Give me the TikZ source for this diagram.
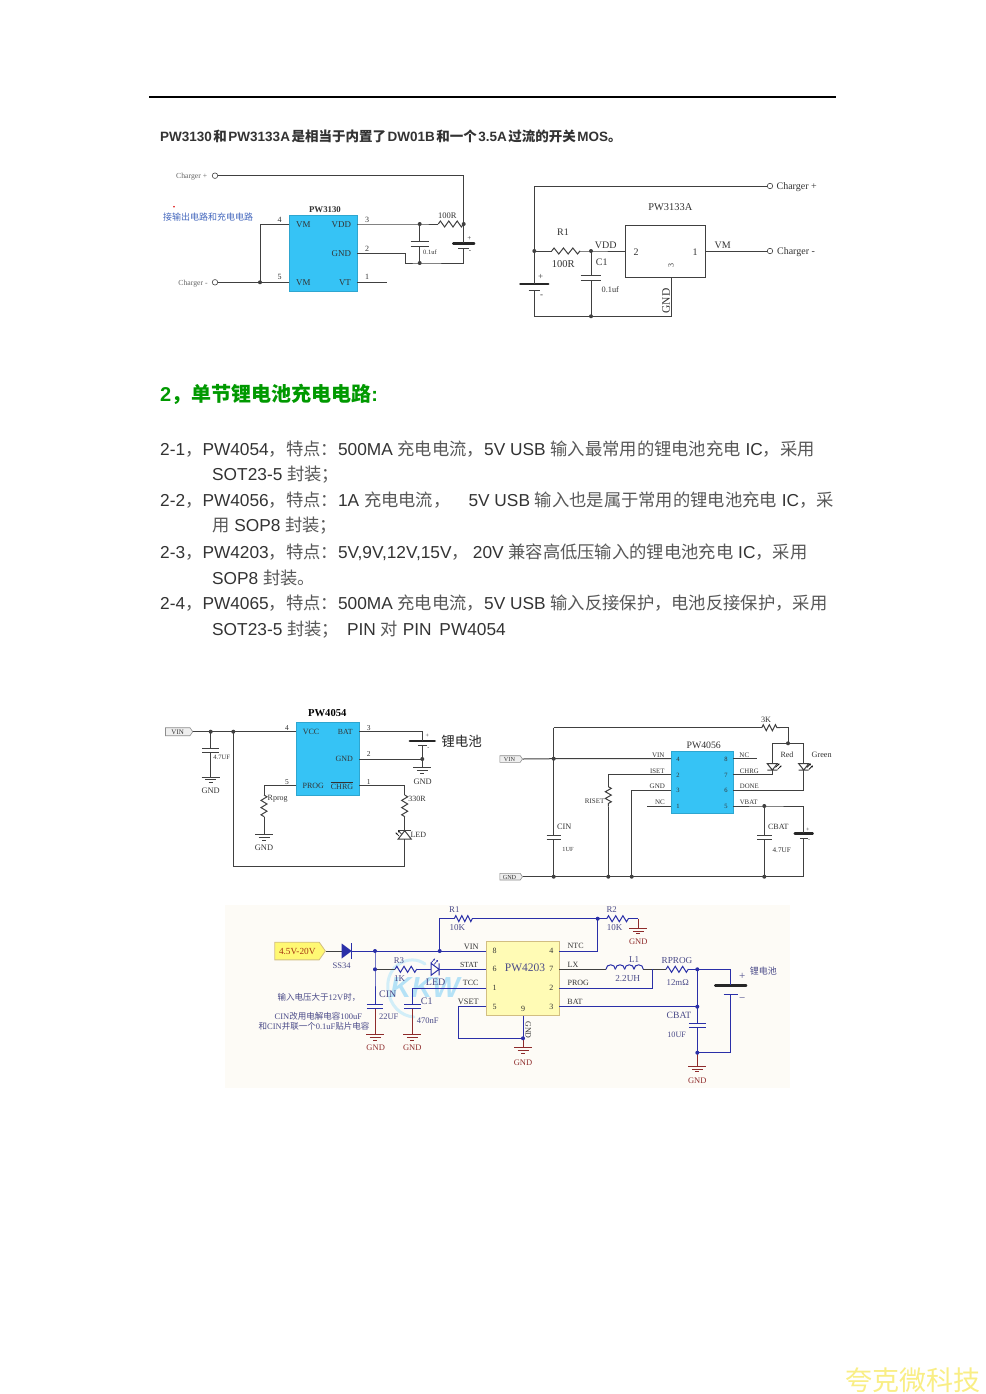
\documentclass[tikz,border=0pt]{standalone}
\usepackage{fontspec}
\setmainfont{Liberation Serif}
\newfontfamily\ar{Liberation Sans}
\newfontfamily\cjk{Noto Sans CJK SC}
\usetikzlibrary{decorations.pathmorphing,shapes.symbols,arrows.meta}
\definecolor{chipblue}{HTML}{36C3F5}
\definecolor{chipyel}{HTML}{FFFBB5}
\definecolor{chipedge}{HTML}{D2BE82}
\definecolor{ewire}{HTML}{2A2FA8}
\definecolor{gred}{HTML}{8E2B2B}
\definecolor{elab}{HTML}{4A4A88}
\definecolor{inkgrey}{HTML}{333333}
\definecolor{cjkgrey}{HTML}{585858}
\definecolor{wirea}{HTML}{404040}
\definecolor{cream}{HTML}{FDFBF6}
\definecolor{tagfill}{HTML}{EFEFEF}
\definecolor{kkw}{HTML}{B5E2F6}
\definecolor{kkwarc}{HTML}{D2EEF8}
\definecolor{wmyel}{HTML}{F9EE85}
\newcounter{tn}
\newcommand\C[1]{{\cjk #1}}
\newcommand\Cp[1]{{\color{cjkgrey}\cjk #1}}
\newcommand\T[3][]{\stepcounter{tn}\node[lab,#1] (t\arabic{tn}) at (#2) {#3};}
\newcommand\Pt[2]{\coordinate (#1) at (#2);}
\newcommand\Res[3]{\draw[wire,decorate,decoration={zigzag,amplitude=3pt,segment length=#3pt}] (#1) -- (#2);}
\newcommand\capv[5]{\coordinate (#1-t) at (#2,#3);\coordinate (#1-b) at (#2,#4);
  \draw[wire] (#2-#5,#3) -- (#2+#5,#3);\draw[wire] (#2-#5,#4) -- (#2+#5,#4);}
\newcommand\batv[6]{\coordinate (#1-t) at (#2,#3);\coordinate (#1-b) at (#2,#4);
  \draw[wire,line width=2.4pt,line cap=round,draw=black!85] (#2-#5,#3) -- (#2+#5,#3);\draw[wire] (#2-#6,#4) -- (#2+#6,#4);}
\newcommand\gnd[4][]{\coordinate (#2) at (#3,#4);
  \draw[wire,#1] (#3-9,#4) -- (#3+9,#4);\draw[wire,#1] (#3-5.5,#4+2.7) -- (#3+5.5,#4+2.7);\draw[wire,#1] (#3-2,#4+5.4) -- (#3+2,#4+5.4);}
\newcommand\jd[1]{\fill[wirecol] (#1) circle (2);}
\tikzset{
  lab/.style={inner sep=0pt,text=inkgrey},
  f/.style={font=\fontsize{#1}{#1}\selectfont},
  para/.style={anchor=base west,font=\ar\fontsize{17.3}{20}\selectfont,text=inkgrey,execute at begin node=\let\C\Cp},
  wire/.style={line width=1pt,draw=wirecol},
  term/.style={circle,draw=wirea,fill=white,line width=.6pt,minimum size=5.5pt,inner sep=0pt},
  chipb/.style={draw=chipblue!85!black,line width=.5pt,fill=chipblue,inner sep=0pt},
  chipw/.style={draw=wirea,line width=1pt,fill=white,inner sep=0pt},
  chipy/.style={draw=chipedge,line width=1pt,fill=chipyel,inner sep=0pt},
  tag/.style={shape=signal,signal to=east,signal pointer angle=110,draw=black!45,fill=tagfill,line width=.6pt,inner sep=0pt},
}
\colorlet{wirecol}{wirea}
\begin{document}
\begin{tikzpicture}[x=1pt,y=-1pt]
\useasboundingbox (0,0) rectangle (985,1394);
\fill[white] (0,0) rectangle (985,1394);
% header rule
\Pt{rl}{149,97}\Pt{rr}{836,97}
\draw[line width=1.4pt,black] (rl) -- (rr);
\T[anchor=base west,font=\ar\bfseries\fontsize{13.5}{16}\selectfont]{160,141.5}{PW3130\hspace{1.5pt}\C{和}\hspace{1.5pt}PW3133A\hspace{1.5pt}\C{是相当于内置了}\hspace{1.5pt}DW01B\hspace{1.5pt}\C{和一个}\hspace{1.5pt}3.5A\hspace{1.5pt}\C{过流的开关}\hspace{1.5pt}MOS\C{。}}

% ---------- A: PW3130
\node[chipb,minimum width=67.7pt,minimum height=76.3pt] (aic) at (323.15,253.15) {};
\node[term] (acp) at (215,175.7) {};
\node[term] (acm) at (215,282.3) {};
\Pt{atop}{463.7,175.7}\Pt{at3}{357,224}\Pt{aj1}{419.7,224}\Pt{ar1}{438.3,224}\Pt{ar2}{463.7,224}
\Pt{ag2}{357,253.7}\Pt{ag2b}{405.3,253.7}\Pt{ag3}{405.3,263}\Pt{aj2}{419.7,263}\Pt{ag4}{463.7,263}
\Pt{at4}{289.3,224}\Pt{aj4}{260,224}\Pt{aj5}{260,282.3}\Pt{at5}{289.3,282.3}\Pt{at1}{357,282.3}\Pt{at1e}{386.7,282.3}
\capv{ac}{419.7}{241.3}{246}{9}
\batv{ab}{463.7}{243.3}{248.3}{10.5}{5.5}
\draw[wire] (acp.east) -- (atop) -- (ar2);
\draw[wire] (at3) -- (aj1) -- (ar1);
\Res{ar1}{ar2}{8.4}
\draw[wire] (aj1) -- (ac-t) (ac-b) -- (aj2);
\draw[wire] (ar2) -- (ab-t) (ab-b) -- (ag4) -- (aj2) -- (ag3) -- (ag2b) -- (ag2);
\draw[wire] (acm.east) -- (aj5) -- (at5) (at4) -- (aj4) -- (aj5) (at1) -- (at1e);
\jd{aj1}\jd{aj2}\jd{ar2}\jd{aj5}
\T[f=7.7,text=black!60]{191.7,177}{Charger +}
\T[f=7.7,text=black!60]{193,283.7}{Charger -}
\T[f=8.8,font=\bfseries\fontsize{8.8}{9}\selectfont]{325,210}{PW3130}
\T[f=8.9]{303.3,224.7}{VM}\T[f=8.9]{341.3,224.7}{VDD}\T[f=8.9]{341.3,253.3}{GND}\T[f=8.9]{303.3,282.3}{VM}\T[f=8.9]{345,282.3}{VT}
\T[f=8]{279.7,219.7}{4}\T[f=8]{279.7,277}{5}\T[f=8]{367,219.7}{3}\T[f=8]{367,248.7}{2}\T[f=8]{367,277}{1}
\T[f=8.5]{447.3,216}{100R}\T[f=6.5]{430,252.7}{0.1uf}\T[f=7]{469.3,238.7}{+}\T[f=7]{470,252}{-}
\T[font=\cjk\fontsize{9}{10}\selectfont,text={rgb,255:red,70;green,105;blue,190}]{208,216.7}{接输出电路和充电电路}
\node[circle,fill=red!85!black,inner sep=0pt,minimum size=1.8pt] (adot) at (174,206.7) {};

% ---------- B: PW3133A
\node[chipw,minimum width=80pt,minimum height=52pt] (bic) at (665.3,251.7) {};
\node[term] (bcp) at (770,186) {};
\node[term] (bcm) at (770,251) {};
\Pt{bj1}{534.3,251}\Pt{btl}{534.3,186}\Pt{br1}{551.7,251}\Pt{br2}{580,251}\Pt{bj2}{591,251}\Pt{bt2}{625.3,251}
\Pt{bt1}{705.3,251}\Pt{bj3}{591,316.3}\Pt{bbl}{534.3,316.3}\Pt{bbr}{671,316.3}\Pt{bt3}{671,277.7}
\capv{bc}{591}{275.3}{280}{10.3}
\batv{bb}{534.3}{283.7}{290.7}{14}{5.8}
\draw[wire] (bj1) -- (btl) -- (bcp.west);
\draw[wire] (bj1) -- (br1) (br2) -- (bj2) -- (bt2);
\Res{br1}{br2}{9.4}
\draw[wire] (bt1) -- (bcm.west);
\draw[wire] (bj2) -- (bc-t) (bc-b) -- (bj3);
\draw[wire] (bj1) -- (bb-t) (bb-b) -- (bbl) -- (bj3) -- (bbr) -- (bt3);
\jd{bj1}\jd{bj2}\jd{bj3}
\T[f=10]{796.7,187.5}{Charger +}\T[f=10]{796,252.5}{Charger -}
\T[f=10.4]{670.3,206.7}{PW3133A}
\T[f=10]{636,252}{2}\T[f=10]{695,252}{1}\T[f=8,rotate=90]{671,265.7}{3}
\T[f=10]{722.7,245.3}{VM}\T[f=10]{605.7,245.3}{VDD}\T[f=10]{563,232}{R1}\T[f=10.5]{563.3,263.7}{100R}
\T[f=10]{601.7,262.7}{C1}\T[f=8.3]{610.3,289.3}{0.1uf}\T[f=11.5,rotate=90]{666,301}{GND}
\T[f=9]{540.7,277.3}{+}\T[f=9]{541.7,296}{-}

% ---------- Heading and paragraphs
\T[anchor=base west,font=\ar\bfseries\fontsize{20}{24}\selectfont,text={rgb,255:red,0;green,153;blue,0}]{160,401}{2\C{，单节锂电池充电电路}:}
\T[para]{160,455}{2-1\C{，}PW4054\C{，特点：}500MA \C{充电电流，}5V USB \C{输入最常用的锂电池充电} IC\C{，采用}}
\T[para]{212,480.5}{SOT23-5 \C{封装；}}
\T[para]{160,506}{2-2\C{，}PW4056\C{，特点：}1A \C{充电电流，}\hspace{18pt}5V USB \C{输入也是属于常用的锂电池充电} IC\C{，采}}
\T[para]{212,531.5}{\C{用} SOP8 \C{封装；}}
\T[para]{160,558}{2-3\C{，}PW4203\C{，特点：}5V,9V,12V,15V\C{，}\hspace{4pt}20V \C{兼容高低压输入的锂电池充电} IC\C{，采用}}
\T[para]{212,584}{SOP8 \C{封装。}}
\T[para]{160,609}{2-4\C{，}PW4065\C{，特点：}500MA \C{充电电流，}5V USB \C{输入反接保护，电池反接保护，采用}}
\T[para]{212,635}{SOT23-5 \C{封装；}\hspace{8pt}PIN \C{对} PIN\hspace{3pt} PW4054}

% ---------- C: PW4054
\node[chipb,minimum width=63pt,minimum height=72.3pt] (cic) at (327.5,758.85) {};
\node[tag,minimum width=27.3pt,minimum height=8pt] (cvin) at (177.7,731.7) {};
\Pt{cj1}{210.7,731.7}\Pt{cj2}{233.3,731.7}\Pt{ct4}{296,731.7}\Pt{ct3}{359,731.7}\Pt{ctb}{422.3,731.7}
\Pt{ct2}{359,759}\Pt{cj3}{422.3,759}\Pt{ct5}{296,785.7}\Pt{cpl}{264,785.7}\Pt{cra}{264,795}\Pt{crb}{264,816.7}
\Pt{ct1}{359,785.7}\Pt{cpr}{404.7,785.7}\Pt{csa}{404.7,795}\Pt{csb}{404.7,816.7}\Pt{cla}{404.7,830.7}\Pt{clb}{404.7,839}
\Pt{cbr}{404.7,866.7}\Pt{cbl}{233.3,866.7}
\capv{cc}{210.7}{748}{752}{8.4}
\batv{cb}{422.3}{740.7}{745.7}{12.5}{4.5}
\gnd{cg1}{210.7}{777}\gnd{cg2}{422.3}{767.7}\gnd{cg3}{264}{834.7}
\draw[wire] (cvin.east) -- (cj1) -- (cj2) -- (ct4);
\draw[wire] (cj1) -- (cc-t) (cc-b) -- (cg1);
\draw[wire] (ct3) -- (ctb) -- (cb-t) (cb-b) -- (cj3) -- (cg2) (ct2) -- (cj3);
\draw[wire] (ct5) -- (cpl) -- (cra) (crb) -- (cg3);
\Res{cra}{crb}{7.2}
\draw[wire] (ct1) -- (cpr) -- (csa) (csb) -- (cla);
\Res{csa}{csb}{7.2}
\draw[wire] (clb) -- (cbr) -- (cbl) -- (cj2);
\draw[wire] (398.2,839) -- (411.2,839) -- (cla) -- cycle;
\draw[wire] (398.2,830.7) -- (411.2,830.7);
\draw[line width=.6pt,-{Stealth[length=2pt,width=2pt]}] (399,836) -- (395.5,832.5);
\draw[line width=.6pt,-{Stealth[length=2pt,width=2pt]}] (401.5,834) -- (398,830.5);
\jd{cj1}\jd{cj2}\jd{cj3}
\T[font=\fontsize{7}{8}\selectfont]{177.7,732}{VIN}
\T[font=\bfseries\fontsize{10.6}{11}\selectfont,text=black]{327.3,713.3}{PW4054}
\T[f=8]{311,731.7}{VCC}\T[f=7.8]{345.3,731.7}{BAT}\T[f=8]{344.3,759}{GND}\T[f=8]{313.3,785.7}{PROG}
\T[f=8]{342,785.7}{$\overline{\mbox{CHRG}}$}
\T[f=7.5]{287,727.7}{4}\T[f=7.5]{368.7,727.7}{3}\T[f=7.5]{368.7,754.3}{2}\T[f=7.5]{287,781.7}{5}\T[f=7.5]{368.7,781.7}{1}
\T[f=6.6]{221.7,757.3}{4.7UF}\T[f=8.4]{210.7,790.3}{GND}\T[f=8.4]{422.7,781.7}{GND}\T[f=8.4]{264,848}{GND}
\T[f=8]{277.7,799}{Rprog}\T[f=8]{417,799}{330R}\T[f=8]{418.3,834.7}{LED}
\T[f=6]{427.3,736}{+}\T[f=6]{428.3,748.3}{-}
\T[font=\cjk\fontsize{13.5}{14}\selectfont,text=black!85]{461.7,741.7}{锂电池}

% ---------- D: PW4056
\node[chipb,minimum width=62.3pt,minimum height=62.7pt] (dic) at (702.15,782.35) {};
\node[tag,minimum width=22.7pt,minimum height=6.6pt] (dvin) at (510,759) {};
\node[tag,minimum width=22.7pt,minimum height=6.6pt] (dgnd) at (510,876.7) {};
\Pt{dj1}{553.7,758.7}\Pt{dl4}{671,758.7}\Pt{dtl}{553.7,727.7}\Pt{dra}{761.7,727.7}\Pt{drb}{780,727.7}\Pt{dtr}{788,727.7}
\Pt{dj2}{788,743.3}\Pt{dbl}{772.3,743.3}\Pt{dbr}{803.7,743.3}
\Pt{dla}{772.3,763.7}\Pt{dlb}{772.3,770}\Pt{dlc}{772.3,774.7}\Pt{dr7}{733.3,774.7}
\Pt{dga}{803.7,763.7}\Pt{dgb}{803.7,770}\Pt{dgc}{803.7,790.3}\Pt{dr6}{733.3,790.3}
\Pt{dl2}{671,774.7}\Pt{dis}{608.3,774.7}\Pt{dsa}{608.3,786.7}\Pt{dsb}{608.3,806.7}\Pt{dj3}{608.3,876.7}
\Pt{dl3}{671,790.3}\Pt{dgl}{631.7,790.3}\Pt{dj4}{631.7,876.7}
\Pt{dj5}{553.7,876.7}\Pt{dj6}{764.3,876.7}\Pt{dgr}{803.7,876.7}
\Pt{dr5}{733.3,806}\Pt{dj7}{764.3,806}\Pt{dvr}{803.7,806}
\Pt{dr8}{733.3,758.7}\Pt{dr8e}{756.7,758.7}\Pt{dl1}{671,806}\Pt{dl1e}{647.3,806}
\capv{dc1}{553.7}{835.7}{839.7}{7.2}
\capv{dc2}{764.3}{835.7}{839.7}{7.2}
\batv{db}{803.7}{833.3}{838.3}{9}{3.8}
\draw[wire] (dvin.east) -- (dj1) -- (dl4);
\draw[wire] (dtl) -- (dj1) -- (dc1-t) (dc1-b) -- (dj5);
\draw[wire] (dtl) -- (dra) (drb) -- (dtr) -- (dj2);
\Res{dra}{drb}{6.1}
\draw[wire] (dbl) -- (dj2) -- (dbr);
\draw[wire] (dbl) -- (dla) (dlb) -- (dlc) -- (dr7);
\draw[wire] (dbr) -- (dga) (dgb) -- (dgc) -- (dr6);
\draw[wire] (767.3,763.7) -- (777.3,763.7) -- (dlb) -- cycle (767.3,770) -- (777.3,770);
\draw[wire] (798.7,763.7) -- (808.7,763.7) -- (dgb) -- cycle (798.7,770) -- (808.7,770);
\draw[line width=.6pt,-{Stealth[length=2pt,width=2pt]}] (775.5,767.5) -- (779.5,763.5);
\draw[line width=.6pt,-{Stealth[length=2pt,width=2pt]}] (777.5,769.5) -- (781.5,765.5);
\draw[line width=.6pt,-{Stealth[length=2pt,width=2pt]}] (806.9,767.5) -- (810.9,763.5);
\draw[line width=.6pt,-{Stealth[length=2pt,width=2pt]}] (808.9,769.5) -- (812.9,765.5);
\draw[wire] (dl2) -- (dis) -- (dsa) (dsb) -- (dj3);
\Res{dsa}{dsb}{6.7}
\draw[wire] (dl3) -- (dgl) -- (dj4);
\draw[wire] (dgnd.east) -- (dj5) -- (dj3) -- (dj4) -- (dj6) -- (dgr) -- (db-b) (db-t) -- (dvr) -- (dj7) -- (dr5);
\draw[wire] (dj7) -- (dc2-t) (dc2-b) -- (dj6);
\draw[wire] (dr8) -- (dr8e) (dl1) -- (dl1e);
\jd{dj1}\jd{dj2}\jd{dj3}\jd{dj4}\jd{dj5}\jd{dj6}\jd{dj7}
\T[f=6.2]{509.5,759.2}{VIN}\T[f=6.2]{509.5,877}{GND}
\T[f=9.8]{703.7,745.3}{PW4056}
\T[f=7]{658.3,755.3}{VIN}\T[f=6.8]{657.3,771}{ISET}\T[f=7]{657.3,786.7}{GND}\T[f=7]{660,802}{NC}
\T[f=7]{744.3,755.3}{NC}\T[f=6.8]{749.3,771}{CHRG}\T[f=6.8]{749.3,786.7}{DONE}\T[f=6.8]{748.7,802}{VBAT}
\T[f=6.5]{678,759.3}{4}\T[f=6.5]{678,775}{2}\T[f=6.5]{678,790.7}{3}\T[f=6.5]{678,806.3}{1}
\T[f=6.5]{726,759.3}{8}\T[f=6.5]{726,775}{7}\T[f=6.5]{726,790.7}{6}\T[f=6.5]{726,806.3}{5}
\T[f=7]{594.7,801.7}{RISET}\T[f=8.3]{564.3,827}{CIN}\T[f=6.2]{568,849}{1UF}
\T[f=8]{778.3,827}{CBAT}\T[f=7.2]{781.7,849.7}{4.7UF}\T[f=6]{807.7,830}{+}\T[f=6]{809,840.3}{-}
\T[f=8]{787,754.7}{Red}\T[f=8.2]{821.7,754.7}{Green}\T[f=8.2]{766,720}{3K}

% ---------- E: PW4203
\fill[cream] (225,905) rectangle (790,1088);
\draw[kkwarc,line width=3pt,line cap=round] (425,964) .. controls (410,953) and (385,965) .. (388,990) .. controls (390,1005) and (400,1016) .. (414,1017);
\T[font=\ar\bfseries\itshape\fontsize{29}{30}\selectfont,text=kkw]{425,988}{KKW}
\node[chipy,minimum width=73.3pt,minimum height=74pt] (eic) at (522.65,978.7) {};
\node[shape=signal,signal to=east,signal pointer angle=110,draw=chipedge,fill=yellow!55,line width=.8pt,inner sep=0pt,minimum width=50.6pt,minimum height=17.7pt] (etag) at (297,951) {};
\colorlet{wirecol}{ewire}
\Pt{ed1}{341.7,951}\Pt{ed2}{351.7,951}\Pt{ej1}{375,951}\Pt{ej2}{439.7,951}\Pt{el8}{486,951}
\Pt{ert}{439.7,918.7}\Pt{er1a}{454.3,918.7}\Pt{er1b}{472.3,918.7}\Pt{ej3}{597.7,918.7}\Pt{er8}{597.7,951}\Pt{er4}{559.3,951}
\Pt{er2a}{606.7,918.7}\Pt{er2b}{628.3,918.7}\Pt{eg1t}{638.3,918.7}
\Pt{ej4}{375,969.3}\Pt{er3a}{395,969.3}\Pt{er3b}{416.7,969.3}\Pt{ela}{431,969.3}\Pt{elb}{439,969.3}\Pt{el6}{486,969.3}
\Pt{el1}{486,988}\Pt{etc}{412.3,988}\Pt{el5}{486,1006.7}\Pt{evs}{458.3,1006.7}\Pt{evb}{458.3,1038.3}\Pt{ej5}{523,1038.3}\Pt{et9}{523,1015.7}
\Pt{er7}{559.3,969.3}\Pt{ela1}{606,969.3}\Pt{ela2}{643.3,969.3}\Pt{ej6}{652.7,969.3}\Pt{ep1}{666,969.3}\Pt{ep2}{688.3,969.3}\Pt{ej7}{697.3,969.3}\Pt{ebt}{730.7,969.3}
\Pt{er2}{559.3,988}\Pt{epr}{652.7,988}\Pt{er3}{559.3,1006.7}\Pt{ej8}{697.3,1006.7}\Pt{ej9}{697.3,1052.7}\Pt{ebb}{730.7,1052.7}
\capv{ec1}{375}{1004.3}{1008.7}{8.2}
\capv{ec2}{412.3}{1004.3}{1008.7}{8.2}
\capv{ec3}{697.3}{1023}{1027}{8.5}
\batv{eb}{730.7}{985.3}{994.7}{15.5}{7}
\gnd[gred]{eg1}{638.3}{928.3}\gnd[gred]{eg2}{375}{1034.7}\gnd[gred]{eg3}{412.3}{1034.7}\gnd[gred]{eg4}{523}{1047.7}\gnd[gred]{eg5}{697.3}{1066.3}
\draw[wire,draw=wirea] (etag.east) -- (ed1);
\fill[ewire] (341.7,943.5) -- (341.7,958.5) -- (ed2) -- cycle;
\draw[wire,line width=1.1pt] (351.7,943) -- (351.7,959);
\draw[wire] (ed2) -- (ej1) -- (ej2) -- (el8);
\draw[wire] (ej2) -- (ert) -- (er1a) (er1b) -- (ej3) -- (er8) -- (er4);
\Res{er1a}{er1b}{6}
\draw[wire] (ej3) -- (er2a) (er2b) -- (eg1t);
\Res{er2a}{er2b}{7.2}
\draw[wire,draw=gred] (eg1t) -- (eg1);
\draw[wire] (ej1) -- (ej4) -- (ec1-t);
\draw[wire,draw=gred] (ec1-b) -- (eg2);
\draw[wire,draw=wirea] (ej4) -- (er3a);
\Res{er3a}{er3b}{7.2}
\draw[wire] (er3b) -- (ela) (elb) -- (el6);
\draw[wire] (431,963.3) -- (431,975.3) -- (elb) -- cycle (439,963.3) -- (439,975.3);
\draw[ewire,line width=.6pt,-{Stealth[length=2pt,width=2pt]}] (431,963) -- (435,958.5);
\draw[ewire,line width=.6pt,-{Stealth[length=2pt,width=2pt]}] (434,964.5) -- (438,960);
\draw[wire] (el1) -- (etc) -- (ec2-t);
\draw[wire,draw=gred] (ec2-b) -- (eg3);
\draw[wire] (el5) -- (evs) -- (evb) -- (ej5);
\draw[wire] (et9) -- (ej5);
\draw[wire,draw=gred] (ej5) -- (eg4);
\draw[wire,draw=wirea] (er7) -- (ela1) (ela2) -- (ej6) -- (ep1);
\foreach \bump in {0,1,2,3}{\draw[wire] (606+9.33*\bump,969.3) .. controls +(0,-6) and +(0,-6) .. +(9.33,0);}
\Res{ep1}{ep2}{7.4}
\draw[wire] (ep2) -- (ej7) -- (ebt) -- (eb-t) (eb-b) -- (ebb) -- (ej9);
\draw[wire] (er2) -- (epr) -- (ej6);
\draw[wire] (er3) -- (ej8);
\draw[wire] (ej7) -- (ej8) -- (ec3-t) (ec3-b) -- (ej9);
\draw[wire,draw=gred] (ej9) -- (eg5);
\jd{ej1}\jd{ej2}\jd{ej3}\jd{ej4}\jd{ej5}\jd{ej7}\jd{ej8}\jd{ej9}
\T[f=9.3,text={rgb,255:red,165;green,55;blue,20}]{297.3,951}{4.5V-20V}
\T[f=8.5,text=elab]{341.7,965.3}{SS34}
\T[f=8.8,text=elab]{454.3,910}{R1}\T[f=9,text=elab]{457.3,928}{10K}\T[f=8.8,text=elab]{611.7,910}{R2}\T[f=9,text=elab]{614.7,928}{10K}
\T[f=8.8,text=elab]{399,960.7}{R3}\T[f=9,text=elab]{399.7,978.7}{1K}\T[f=10,text=elab]{435.7,982.7}{LED}
\T[f=8.3]{471.3,946.7}{VIN}\T[f=7.8]{469,965}{STAT}\T[f=8]{470.7,983.3}{TCC}\T[f=8.3]{468.3,1002}{VSET}
\T[f=8]{494.7,951}{8}\T[f=8]{494.7,969.3}{6}\T[f=8]{494.7,988}{1}\T[f=8]{494.7,1006.7}{5}
\T[f=8]{551.3,951}{4}\T[f=8]{551.3,969.3}{7}\T[f=8]{551.3,988}{2}\T[f=8]{551.3,1006.7}{3}\T[f=8]{523,1009.3}{9}
\T[f=11.5,text=elab]{525,968}{PW4203}
\T[f=8]{575.7,946.3}{NTC}\T[f=8]{573,965}{LX}\T[f=8]{578.3,983.3}{PROG}\T[f=8]{575,1002}{BAT}
\T[f=9,text=elab]{634,960}{L1}\T[f=9.2,text=elab]{627.7,978.7}{2.2UH}\T[f=9.2,text=elab]{677,960}{RPROG}\T[f=8.8,text=elab]{677.7,983}{12m\symbol{"03A9}}
\T[f=9.6,text=elab]{679,1015}{CBAT}\T[f=8.2,text=elab]{676.7,1035}{10UF}
\T[f=10,text=elab]{387.7,994.7}{CIN}\T[f=8.5,text=elab]{388.7,1016.7}{22UF}\T[f=10,text=elab]{426.7,1001}{C1}\T[f=8.5,text=elab]{427.7,1020.7}{470nF}
\T[f=8.5,text=gred]{375.7,1048}{GND}\T[f=8.5,text=gred]{412.3,1048}{GND}\T[f=8.5,text=gred]{523,1062.3}{GND}\T[f=8.5,text=gred]{638.3,942}{GND}\T[f=8.5,text=gred]{697.3,1080.3}{GND}
\T[f=8,rotate=-90]{528.3,1030}{GND}
\T[f=8.5,text=elab]{319,997}{\C{输入电压大于}12V\C{时，}}
\T[f=8.5,text=elab]{318.3,1016}{CIN\C{改用电解电容}100uF}
\T[f=8.5,text=elab]{314,1026.7}{\C{和}CIN\C{并联一个}0.1uF\C{贴片电容}}
\T[font=\cjk\fontsize{9}{10}\selectfont,text=elab]{763.3,971}{锂电池}
\T[f=11,text=elab]{742.3,976.3}{+}\T[f=11,text=elab]{742.3,1000}{\symbol{"2212}}

% ---------- watermark
\T[font=\cjk\fontsize{27}{28}\selectfont,text=wmyel]{912.5,1380}{夸克微科技}
\end{tikzpicture}
\end{document}
